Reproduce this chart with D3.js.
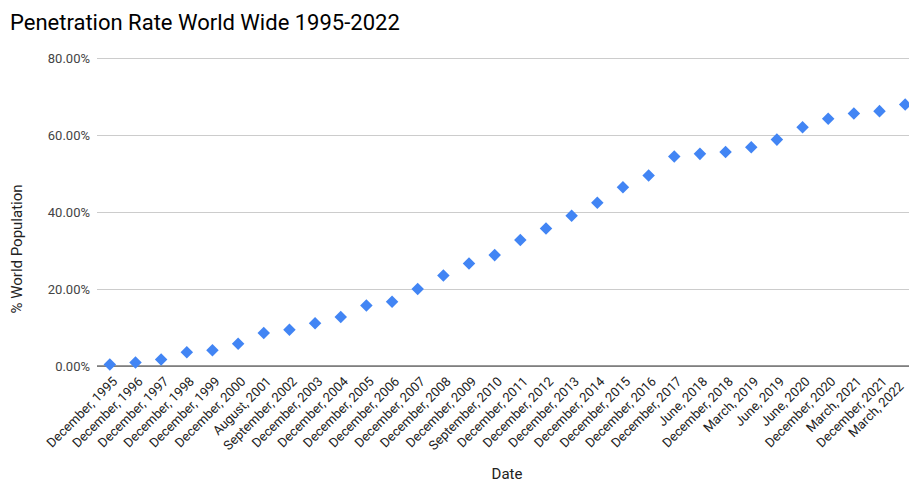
<!DOCTYPE html>
<html>
<head>
<meta charset="utf-8">
<script src="https://cdn.jsdelivr.net/npm/d3@7"></script>
<style>
  html, body { margin: 0; padding: 0; background: #fff; overflow: hidden; }
  svg { display: block; font-family: Roboto, "Noto Sans", Arial, sans-serif; }
</style>
</head>
<body>
<svg id="chart" width="909" height="483"></svg>
<script>
// Internet penetration, share of world population (%)
const dates = [
  "December, 1995", "December, 1996", "December, 1997", "December, 1998",
  "December, 1999", "December, 2000", "August, 2001", "September, 2002",
  "December, 2003", "December, 2004", "December, 2005", "December, 2006",
  "December, 2007", "December, 2008", "December, 2009", "September, 2010",
  "December, 2011", "December, 2012", "December, 2013", "December, 2014",
  "December, 2015", "December, 2016", "December, 2017", "June, 2018",
  "December, 2018", "March, 2019", "June, 2019", "June, 2020",
  "December, 2020", "March, 2021", "December, 2021", "March, 2022"
];
const penetration = [
  0.4, 0.9, 1.7, 3.6, 4.1, 5.8, 8.6, 9.4,
  11.1, 12.7, 15.7, 16.7, 20.0, 23.5, 26.6, 28.8,
  32.7, 35.7, 39.0, 42.4, 46.4, 49.5, 54.4, 55.1,
  55.6, 56.8, 58.8, 62.0, 64.2, 65.6, 66.2, 67.9
];
const yTicks = [0, 20, 40, 60, 80];

const svg = d3.select("#chart");
const margin = { left: 97, right: -9, top: 58, bottom: 117 };
const W = 909, H = 483;
const x0 = margin.left, x1 = W - margin.right;
const y0 = H - margin.bottom, y1 = margin.top;
const font = "Roboto, 'Noto Sans', Arial, sans-serif";

const x = d3.scaleBand().domain(dates).range([x0, x1]).paddingInner(0).paddingOuter(0);
const y = d3.scaleLinear().domain([0, 80]).range([y0, y1]);

// Title
svg.append("text")
  .attr("x", 10).attr("y", 30)
  .attr("font-size", 22).attr("fill", "#000")
  .text("Penetration Rate World Wide 1995-2022");

// Horizontal gridlines + y tick labels
const yAxis = d3.axisLeft(y).tickValues(yTicks)
  .tickSize(-(x1 - x0)).tickPadding(7)
  .tickFormat(d => d3.format(".2f")(d) + "%");
const gy = svg.append("g").attr("transform", `translate(${x0},0)`).call(yAxis);
gy.select(".domain").remove();
gy.selectAll(".tick line").attr("stroke", "#cccccc").attr("stroke-width", 1);
gy.selectAll(".tick text").attr("font-size", 13).attr("fill", "#444")
  .attr("font-family", font);

// Baseline
svg.append("line")
  .attr("x1", x0).attr("x2", x1)
  .attr("y1", y(0)).attr("y2", y(0))
  .attr("stroke", "#333").attr("stroke-width", 1);

// X axis labels, rotated; the last one is nudged in so it stays on the canvas
const xAxis = d3.axisBottom(x).tickSize(0).tickPadding(0);
const gx = svg.append("g").attr("transform", `translate(0,${y0})`).call(xAxis);
gx.select(".domain").remove();
gx.selectAll(".tick text")
  .attr("font-size", 13).attr("fill", "#222")
  .attr("font-family", font)
  .attr("text-anchor", "end")
  .attr("dy", "0.35em")
  .attr("transform", (d, i) => i === dates.length - 1
    ? "translate(-4,18) rotate(-45)"
    : "translate(5,13) rotate(-45)");

// Diamond markers
const diamond = d3.symbol().type(d3.symbolDiamond2).size(100);
svg.append("g").selectAll("path")
  .data(penetration)
  .join("path")
  .attr("d", diamond)
  .attr("transform", (d, i) => `translate(${x(dates[i]) + x.bandwidth() / 2},${y(d)})`)
  .attr("fill", "#4285f4");

// Axis titles
svg.append("text")
  .attr("x", 507).attr("y", 479)
  .attr("text-anchor", "middle")
  .attr("font-size", 15).attr("fill", "#222")
  .text("Date");

svg.append("text")
  .attr("transform", `translate(22,249) rotate(-90)`)
  .attr("text-anchor", "middle")
  .attr("font-size", 15).attr("fill", "#222")
  .text("% World Population");
</script>
</body>
</html>
